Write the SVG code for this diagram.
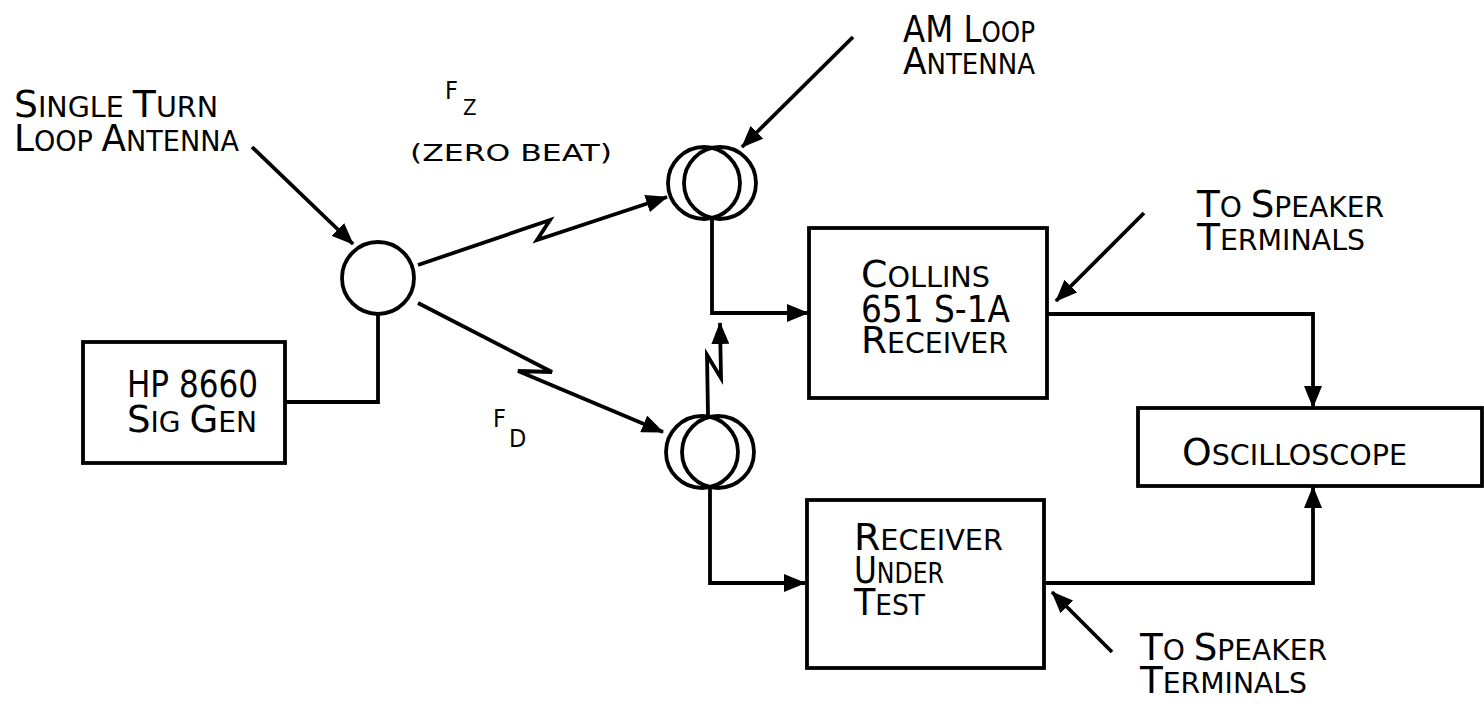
<svg xmlns="http://www.w3.org/2000/svg" width="1484" height="708" viewBox="0 0 1484 708">
<style>
.ln{fill:none;stroke:#000;stroke-width:3.8;stroke-linejoin:miter;stroke-linecap:butt}
.bx{fill:#fff;stroke:#000;stroke-width:3.8}
text{font-family:"DejaVu Sans Condensed","DejaVu Sans","Liberation Sans Narrow",sans-serif;font-stretch:condensed;fill:#000}
.b{font-size:37px}
.s{font-size:28px}
</style>
<defs>
<marker id="ah" viewBox="0 0 22 18" refX="21" refY="9" markerWidth="22" markerHeight="18" markerUnits="userSpaceOnUse" orient="auto">
<path d="M0,0 L22,9 L0,18 z" fill="#000"/>
</marker>
</defs>
<rect width="1484" height="708" fill="#fff"/>

<g id="connectors">
<path class="ln" d="M378,314 V402 H285"/>
<path class="ln" d="M418,265 L550,220 L537,240 L667,197" marker-end="url(#ah)"/>
<path class="ln" d="M418,303 L552,372 L518,371 L663,432" marker-end="url(#ah)"/>
<path class="ln" d="M712,219 V313 H808" marker-end="url(#ah)"/>
<path class="ln" d="M710,488 V583 H805" marker-end="url(#ah)"/>
<path class="ln" d="M708,416 L707,355 L721,378 L720,323" marker-end="url(#ah)"/>
<path class="ln" d="M1047,314 H1313 V407" marker-end="url(#ah)"/>
<path class="ln" d="M1044,583 H1313 V487" marker-end="url(#ah)"/>
<path class="ln" d="M252,147 L353,244" marker-end="url(#ah)"/>
<path class="ln" d="M853,37 L742,147" marker-end="url(#ah)"/>
<path class="ln" d="M1144,213 L1056,301" marker-end="url(#ah)"/>
<path class="ln" d="M1112,652 L1052,592" marker-end="url(#ah)"/>
</g>

<g id="sig-gen">
<rect class="bx" x="83" y="342" width="202" height="121"/>
<text x="127" y="397" font-size="38" textLength="131" lengthAdjust="spacingAndGlyphs">HP 8660</text>
<text x="127" y="432" textLength="130" lengthAdjust="spacingAndGlyphs"><tspan class="b">S</tspan><tspan class="s">IG </tspan><tspan class="b">G</tspan><tspan class="s">EN</tspan></text>
</g>

<g id="single-turn-antenna">
<circle class="ln" cx="378" cy="278" r="36"/>
</g>

<g id="am-loop-antenna">
<circle class="ln" cx="704" cy="183" r="36"/>
<circle class="ln" cx="720" cy="183" r="36"/>
</g>

<g id="test-loop-antenna">
<circle class="ln" cx="702" cy="452" r="36"/>
<circle class="ln" cx="718" cy="452" r="36"/>
</g>

<g id="collins">
<rect class="bx" x="809" y="228" width="238" height="170"/>
<text x="861" y="287" textLength="129" lengthAdjust="spacingAndGlyphs"><tspan class="b">C</tspan><tspan class="s">OLLINS</tspan></text>
<text x="861" y="322" class="b" textLength="149" lengthAdjust="spacingAndGlyphs">651 S-1A</text>
<text x="861" y="353" textLength="147" lengthAdjust="spacingAndGlyphs"><tspan class="b">R</tspan><tspan class="s">ECEIVER</tspan></text>
</g>

<g id="receiver-under-test">
<rect class="bx" x="807" y="500" width="237" height="168"/>
<text x="854" y="550" textLength="149" lengthAdjust="spacingAndGlyphs"><tspan class="b">R</tspan><tspan class="s">ECEIVER</tspan></text>
<text x="854" y="583" textLength="90" lengthAdjust="spacingAndGlyphs"><tspan class="b">U</tspan><tspan class="s">NDER</tspan></text>
<text x="854" y="615" textLength="71" lengthAdjust="spacingAndGlyphs"><tspan class="b">T</tspan><tspan class="s">EST</tspan></text>
</g>

<g id="oscilloscope">
<rect class="bx" x="1138" y="408" width="344" height="78"/>
<text x="1182" y="465" textLength="225" lengthAdjust="spacingAndGlyphs"><tspan class="b">O</tspan><tspan class="s">SCILLOSCOPE</tspan></text>
</g>

<g id="labels">
<text x="14" y="117" textLength="204" lengthAdjust="spacingAndGlyphs"><tspan class="b">S</tspan><tspan class="s">INGLE </tspan><tspan class="b">T</tspan><tspan class="s">URN</tspan></text>
<text x="14" y="151" textLength="225" lengthAdjust="spacingAndGlyphs"><tspan class="b">L</tspan><tspan class="s">OOP </tspan><tspan class="b">A</tspan><tspan class="s">NTENNA</tspan></text>
<text x="445" y="99" font-size="25">F</text>
<text x="463" y="115" font-size="22">Z</text>
<text x="410" y="161" font-size="23" textLength="202" lengthAdjust="spacingAndGlyphs">(ZERO BEAT)</text>
<text x="493" y="427" font-size="25">F</text>
<text x="509" y="447" font-size="25">D</text>
<text x="903" y="42" textLength="132" lengthAdjust="spacingAndGlyphs"><tspan class="b">AM L</tspan><tspan class="s">OOP</tspan></text>
<text x="903" y="74" textLength="132" lengthAdjust="spacingAndGlyphs"><tspan class="b">A</tspan><tspan class="s">NTENNA</tspan></text>
<text x="1197" y="217" textLength="187" lengthAdjust="spacingAndGlyphs"><tspan class="b">T</tspan><tspan class="s">O </tspan><tspan class="b">S</tspan><tspan class="s">PEAKER</tspan></text>
<text x="1197" y="250" textLength="168" lengthAdjust="spacingAndGlyphs"><tspan class="b">T</tspan><tspan class="s">ERMINALS</tspan></text>
<text x="1140" y="660" textLength="187" lengthAdjust="spacingAndGlyphs"><tspan class="b">T</tspan><tspan class="s">O </tspan><tspan class="b">S</tspan><tspan class="s">PEAKER</tspan></text>
<text x="1140" y="693" textLength="167" lengthAdjust="spacingAndGlyphs"><tspan class="b">T</tspan><tspan class="s">ERMINALS</tspan></text>
</g>
</svg>
